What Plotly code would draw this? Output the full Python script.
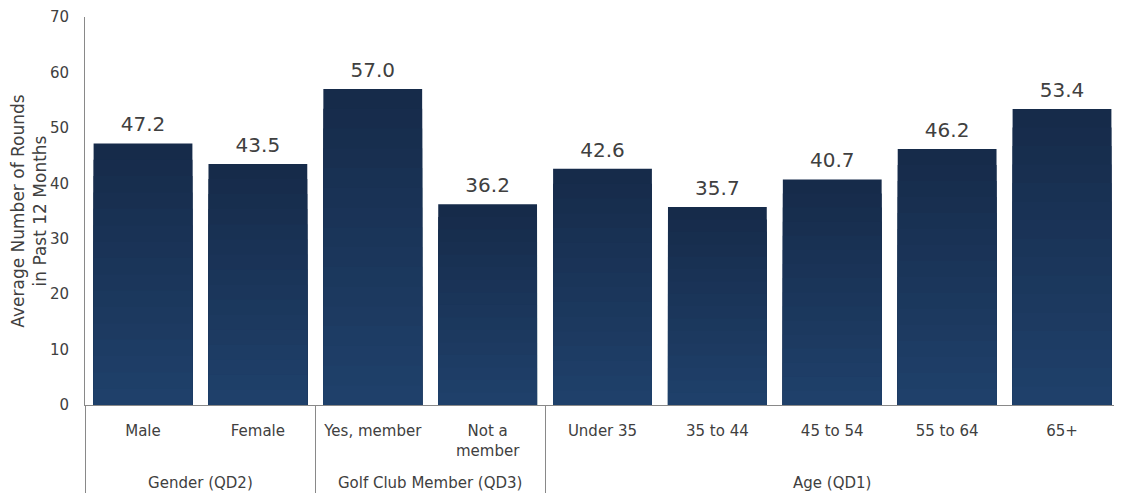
import plotly.graph_objects as go

groups = ["Gender (QD2)", "Gender (QD2)",
          "Golf Club Member (QD3)", "Golf Club Member (QD3)",
          "Age (QD1)", "Age (QD1)", "Age (QD1)", "Age (QD1)", "Age (QD1)"]
categories = ["Male", "Female", "Yes, member", "Not a<br>member",
              "Under 35", "35 to 44", "45 to 54", "55 to 64", "65+"]
values = [47.2, 43.5, 57.0, 36.2, 42.6, 35.7, 40.7, 46.2, 53.4]
y_ticks = [0, 10, 20, 30, 40, 50, 60, 70]

TOP = (22, 43, 74)
BOTTOM = (31, 64, 106)
N = 16

# pad first-level labels (blank lines) so the group row sits lower
PAD = "<br><span style='font-size:38px'> </span>"
cat_labels = [c + ("" if "<br>" in c else "<br> ") + PAD for c in categories]

fig = go.Figure()
for k in range(N):
    t = k / (N - 1)
    c = tuple(round(TOP[i] + (BOTTOM[i] - TOP[i]) * t) for i in range(3))
    frac = (N - k) / N
    fig.add_trace(go.Bar(
        x=[groups, cat_labels],
        y=[v * frac for v in values],
        marker=dict(color="rgb(%d,%d,%d)" % c, line=dict(width=0)),
        hoverinfo="skip",
        showlegend=False,
    ))

fig.add_trace(go.Scatter(
    x=[groups, cat_labels],
    y=values,
    mode="markers+text",
    marker=dict(size=10, opacity=0),
    text=["%.1f" % v for v in values],
    textposition="top center",
    textfont=dict(size=20, color="#404040", family="DejaVu Sans"),
    showlegend=False,
    hoverinfo="skip",
))

fig.update_layout(
    width=1114, height=488,
    barmode="overlay", bargap=0.14,
    plot_bgcolor="white", paper_bgcolor="white",
    margin=dict(l=77, r=2, t=9, b=91),
    font=dict(family="DejaVu Sans", color="#404040", size=15),
)
fig.update_xaxes(
    type="multicategory", automargin=False,
    showline=True, linecolor="#898989", linewidth=1,
    showdividers=True, dividercolor="#898989", dividerwidth=1,
    tickfont=dict(size=15, color="#404040"),
    showgrid=False, ticks="", ticklabelstandoff=12,
)
fig.update_yaxes(
    range=[0, 70], tickvals=y_ticks, automargin=False,
    showline=True, linecolor="#898989", linewidth=1,
    showgrid=False, zeroline=False,
    ticks="outside", ticklen=12, tickcolor="rgba(0,0,0,0)",
    tickfont=dict(size=15, color="#404040"),
    title=dict(text="Average Number of Rounds<br>in Past 12 Months",
               font=dict(size=17, color="#404040"), standoff=6),
)

fig.write_html("out.html")
